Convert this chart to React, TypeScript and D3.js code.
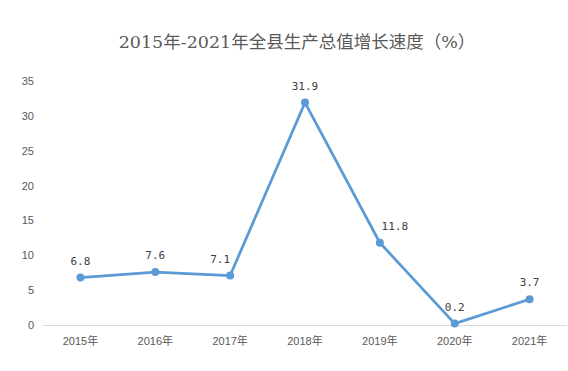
import React, { useEffect, useRef } from 'react';
import * as d3 from 'd3';

const categories = ['2015年', '2016年', '2017年', '2018年', '2019年', '2020年', '2021年'];
const growth = [6.8, 7.6, 7.1, 31.9, 11.8, 0.2, 3.7];
const yTicks = [0, 5, 10, 15, 20, 25, 30, 35];
const title = '2015年-2021年全县生产总值增长速度（%）';
// horizontal nudges of the data labels, as placed in the original
const labelShift = [0, 0, -10, 0, 15, 0, 0];

export default function App() {
  const svgRef = useRef<SVGSVGElement>(null);

  useEffect(() => {
    if (!svgRef.current) return;
    const width = 568;
    const height = 371;
    const margin = { top: 81, right: 1, bottom: 46, left: 43 };
    const innerWidth = width - margin.left - margin.right;
    const innerHeight = height - margin.top - margin.bottom;

    const svg = d3.select(svgRef.current);
    svg.selectAll('*').remove();

    svg.append('rect').attr('width', width).attr('height', height).attr('fill', '#fff');

    svg.append('text')
      .attr('x', 297)
      .attr('y', 48)
      .attr('text-anchor', 'middle')
      .attr('font-family', '"DejaVu Serif", "Noto Sans CJK SC", serif')
      .attr('font-size', 17.5)
      .attr('fill', '#595959')
      .text(title);

    const g = svg.append('g').attr('transform', `translate(${margin.left},${margin.top})`);

    const x = d3.scaleBand().domain(categories).range([0, innerWidth]);
    const y = d3.scaleLinear().domain([0, 35]).range([innerHeight, 0]);
    const cx = (c: string) => (x(c) || 0) + x.bandwidth() / 2;

    // y tick labels (no gridlines)
    g.selectAll('.ytick')
      .data(yTicks)
      .enter()
      .append('text')
      .attr('x', -9)
      .attr('y', d => y(d) + 4)
      .attr('text-anchor', 'end')
      .attr('font-family', '"Liberation Sans", Arial, sans-serif')
      .attr('font-size', 11)
      .attr('fill', '#595959')
      .text(d => d);

    // x axis line
    g.append('line')
      .attr('x1', 0)
      .attr('x2', innerWidth)
      .attr('y1', y(0) + 0.5)
      .attr('y2', y(0) + 0.5)
      .attr('stroke', '#d9d9d9')
      .attr('stroke-width', 1);

    g.selectAll('.xtick')
      .data(categories)
      .enter()
      .append('text')
      .attr('x', d => cx(d))
      .attr('y', innerHeight + 20)
      .attr('text-anchor', 'middle')
      .attr('font-family', '"Liberation Sans", "Noto Sans CJK SC", sans-serif')
      .attr('font-size', 11)
      .attr('fill', '#595959')
      .text(d => d);

    const line = d3.line<number>()
      .x((_, i) => cx(categories[i]))
      .y(d => y(d));

    g.append('path')
      .datum(growth)
      .attr('d', line)
      .attr('fill', 'none')
      .attr('stroke', '#5B9BD5')
      .attr('stroke-width', 2.75)
      .attr('stroke-linejoin', 'round');

    g.selectAll('.dot')
      .data(growth)
      .enter()
      .append('circle')
      .attr('cx', (_, i) => cx(categories[i]))
      .attr('cy', d => y(d))
      .attr('r', 4)
      .attr('fill', '#5B9BD5');

    g.selectAll('.val')
      .data(growth)
      .enter()
      .append('text')
      .attr('x', (_, i) => cx(categories[i]) + labelShift[i])
      .attr('y', d => y(d) - 13)
      .attr('text-anchor', 'middle')
      .attr('font-family', '"DejaVu Sans Mono", "Liberation Mono", monospace')
      .attr('font-size', 11)
      .attr('fill', '#404040')
      .text(d => d.toFixed(1));
  }, []);

  return (
    <div style={{ position: 'absolute', left: 0, top: 0, width: 568, height: 371 }}>
      <svg ref={svgRef} width={568} height={371} style={{ display: 'block' }} />
    </div>
  );
}
